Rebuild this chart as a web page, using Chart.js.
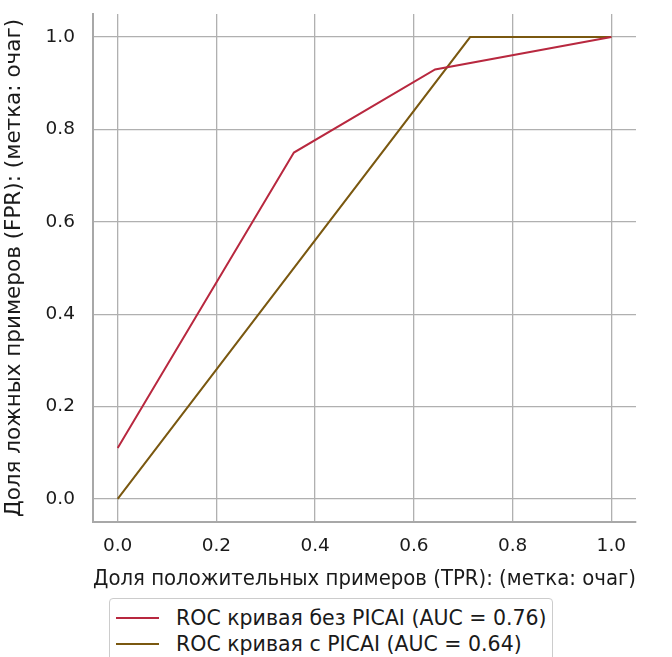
<!DOCTYPE html>
<html>
<head>
<meta charset="utf-8">
<script src="https://cdn.jsdelivr.net/npm/chart.js@4/dist/chart.umd.min.js"></script>
<style>
  html, body { margin: 0; padding: 0; background: #fff; }
  #wrap { position: relative; width: 672px; height: 657px; overflow: hidden; }
  #roc { position: absolute; left: 0; top: 0; }
  #legend {
    position: absolute; left: 109px; top: 598px; width: 444px; height: 75px;
    border: 1px solid #cccccc; border-radius: 4px; box-sizing: border-box;
    font-family: 'DejaVu Sans', sans-serif; font-size: 20.5px; color: #1a1a1a;
    padding-top: 6px;
  }
  .row { display: flex; align-items: center; height: 26px; white-space: nowrap; }
  .swatch { width: 43px; height: 2px; margin-left: 6px; margin-right: 17px; }
</style>
</head>
<body>
<div id="wrap">
  <canvas id="roc" width="672" height="592"></canvas>
  <div id="legend"></div>
</div>
<script>
// ROC points
const FPR_NO_PICAI   = [0, 0.357, 0.643, 1]
const TPR_NO_PICAI   = [0.11, 0.75, 0.93, 1]
const FPR_WITH_PICAI = [0, 0.714, 1]
const TPR_WITH_PICAI = [0, 1, 1]

const SERIES_LABELS = [
  'ROC кривая без PICAI (AUC = 0.76)',
  'ROC кривая с PICAI (AUC = 0.64)',
]
const SERIES_COLORS = ['#b8283f', '#7a5810']

const TICKS = [0, 0.2, 0.4, 0.6, 0.8, 1.0]

const X_TITLE = 'Доля положительных примеров (TPR): (метка: очаг)'
const Y_TITLE = 'Доля ложных примеров (FPR): (метка: очаг)'

const FONT = 'DejaVu Sans'
const GRID = '#b0b0b0'
const SPINE = '#a8a8a8'
const TEXT = '#1a1a1a'

const toPoints = (xs, ys) => xs.map((x, i) => ({ x, y: ys[i] }))

const datasets = [
  toPoints(FPR_NO_PICAI, TPR_NO_PICAI),
  toPoints(FPR_WITH_PICAI, TPR_WITH_PICAI),
].map((data, i) => ({
  label: SERIES_LABELS[i],
  data,
  showLine: true,
  borderColor: SERIES_COLORS[i],
  backgroundColor: SERIES_COLORS[i],
  borderWidth: 2,
  pointRadius: 0,
  tension: 0,
}))

// fixed axis sizes, no extra room for overflowing edge labels
const fitAxis = isX => s => {
  if (isX) s.height = 70
  else s.width = 93
  s.paddingTop = 0
  s.paddingBottom = 0
  s.paddingLeft = 0
  s.paddingRight = 0
}

const axis = (title, isX) => ({
  type: 'linear',
  min: -0.05,
  max: 1.05,
  afterBuildTicks: s => { s.ticks = TICKS.map(v => ({ value: v })) },
  afterFit: fitAxis(isX),
  grid: { color: GRID, lineWidth: 1.3, drawTicks: false },
  border: { display: true, color: SPINE, width: 2 },
  ticks: {
    color: TEXT,
    font: { family: FONT, size: 18.5 },
    padding: isX ? 13 : 18,
    callback: v => v.toFixed(1),
  },
  title: {
    display: true,
    text: title,
    color: TEXT,
    font: { family: FONT, size: 21.5 },
    padding: { top: 2, bottom: 0 },
  },
})

new Chart(document.getElementById('roc'), {
  type: 'scatter',
  data: { datasets },
  options: {
    responsive: false,
    animation: false,
    layout: { padding: { top: 14, right: 36, left: 0, bottom: 0 } },
    plugins: { legend: { display: false }, tooltip: { enabled: false } },
    scales: {
      x: axis(X_TITLE, true),
      y: axis(Y_TITLE, false),
    },
  },
})

const legend = document.getElementById('legend')
datasets.forEach(ds => {
  const row = document.createElement('div')
  row.className = 'row'
  const sw = document.createElement('span')
  sw.className = 'swatch'
  sw.style.background = ds.borderColor
  const txt = document.createElement('span')
  txt.textContent = ds.label
  row.appendChild(sw)
  row.appendChild(txt)
  legend.appendChild(row)
})
</script>
</body>
</html>
